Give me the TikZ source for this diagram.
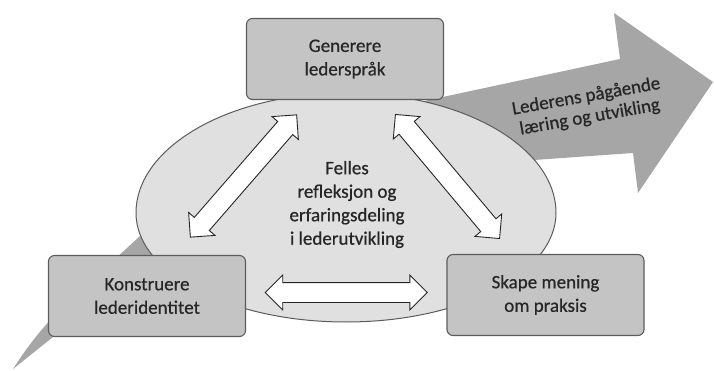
\documentclass[tikz,border=0pt]{standalone}
\usepackage{fontspec}
\setmainfont{Carlito}
\newfontfamily\labelfont{Carlito}[FakeBold=0.6]
\usepackage{xcolor}
\usepackage{tikz}
\usetikzlibrary{shapes.arrows, positioning, calc}

\definecolor{boxfill}{HTML}{C4C4C4}
\definecolor{ovalfill}{HTML}{E0E0E0}
\definecolor{swoosh}{HTML}{A6A6A6}
\definecolor{rim}{HTML}{5C5C5C}
\definecolor{ink}{HTML}{262626}

\begin{document}
\begin{tikzpicture}[x=1pt, y=-1pt,
    labeltext/.style={font=\labelfont\fontsize{19}{23.5}\selectfont, text=ink, align=center},
    phasebox/.style={labeltext, draw=rim, line width=1.1pt, fill=boxfill, rounded corners=6pt, minimum width=197pt, minimum height=81pt},
    hollowarrow/.style={double arrow, draw=ink, line width=0.9pt, fill=white, minimum height=162pt, double arrow head extend=7.5pt, inner xsep=0pt, inner ysep=9.5pt}]
    \useasboundingbox (0,0) rectangle (714,371);

    % Growth arrow behind everything
    \fill[swoosh] (13,369) .. controls (28,346) and (40,330) .. (60,310) -- (140,236) -- (410,104) -- (620,59)
        -- (614,13) -- (713,82) -- (638,193) -- (633,153) -- (534,160) -- (500,165) -- (230,290) -- (53,337) -- cycle;
    \node[labeltext, font=\labelfont\fontsize{19}{21}\selectfont, rotate=10] (growth) at (588,107) {Lederens pågående\\læring og utvikling};

    % Shared reflection oval
    \draw[fill=ovalfill, draw=rim, line width=1pt] (136,213) arc[start angle=180, end angle=360, x radius=210, y radius=120]
        arc[start angle=0, end angle=180, x radius=210, y radius=109] -- cycle;
    \node[labeltext] (felles) at (347,204.5) {Felles\\refleksjon og\\erfaringsdeling\\i lederutvikling};

    % Three corners
    \node[phasebox] (gen) at (345,59) {Generere\\lederspråk};
    \node[phasebox] (kon) at (147,296) {Konstruere\\lederidentitet};
    \node[phasebox] (ska) at (545.5,295) {Skape mening\\om praksis};

    % Two-way links
    \node[hollowarrow, rotate=49] (genkon) at ($(gen)!0.5!(kon)+(-2.5,-1.5)$) {};
    \node[hollowarrow, rotate=-50] (genska) at ($(gen)!0.5!(ska)+(2.25,-0.5)$) {};
    \node[hollowarrow] (konska) at ($(kon)!0.5!(ska)+(0,-3)$) {};
\end{tikzpicture}
\end{document}
